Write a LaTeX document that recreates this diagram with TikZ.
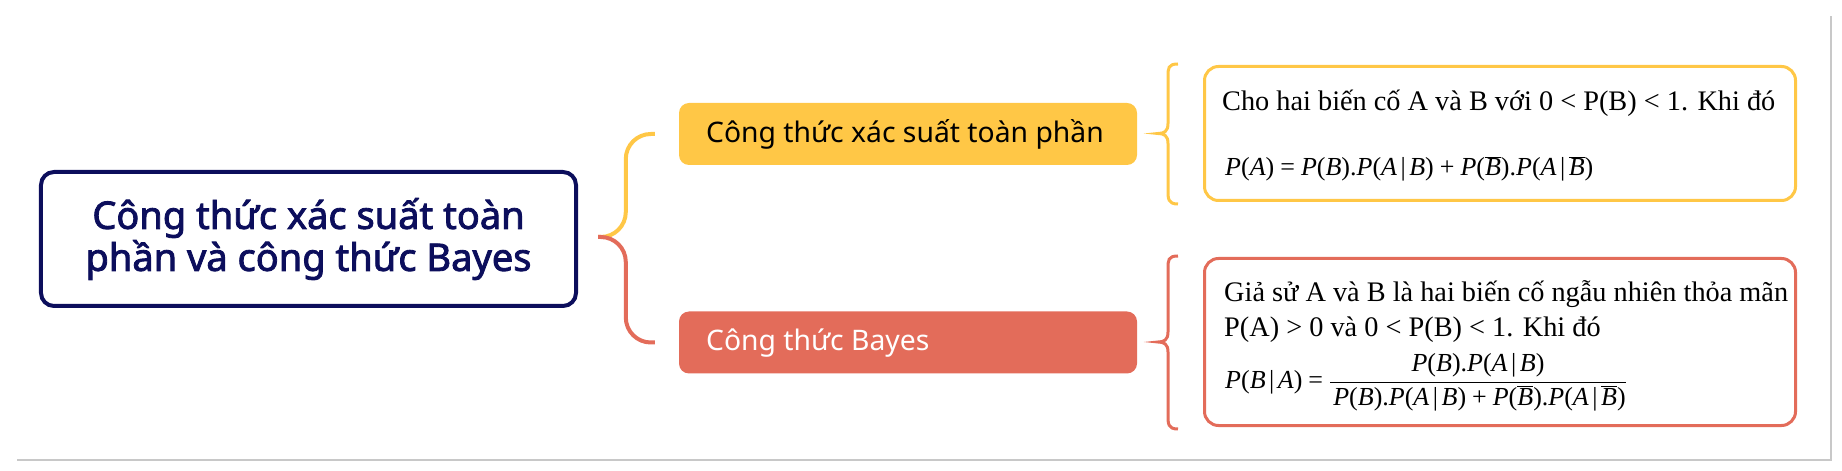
\documentclass[tikz,border=0pt]{standalone}
\usepackage{fontspec}
\setmainfont{Liberation Serif}
\newfontfamily\headfont{Noto Sans}
\newfontfamily\titlefont{Noto Sans}[FakeBold=2.2]
\usetikzlibrary{calc}
\definecolor{navy}{RGB}{12,14,92}
\definecolor{ylw}{RGB}{255,199,70}
\definecolor{rdc}{RGB}{227,108,90}
\definecolor{cardgray}{RGB}{200,200,200}
\newcommand\I[1]{\textit{#1}}
\newcommand\Bb{$\overline{\hbox{\itshape B}}$}
\newcommand\vbr{\kern3.5bp|\kern3.5bp}
\newcommand\eqs{\kern6bp=\kern6bp}
\newcommand\pls{\kern6bp+\kern6bp}
\newcommand\fs[2]{\fontsize{#1bp}{#2bp}\selectfont}
\begin{document}
\begin{tikzpicture}[x=1bp,y=-1bp,
  mainbox/.style={draw=navy,line width=4bp,rounded corners=13bp,fill=white,
    minimum width=535bp,minimum height=134bp,inner sep=0pt},
  headbox/.style={rounded corners=10bp,minimum width=458bp,minimum height=62bp,inner sep=0pt},
  detbox/.style={line width=3bp,rounded corners=14bp,fill=white,minimum width=591bp,inner sep=0pt},
  brc/.style={line width=4bp,rounded corners=25bp},
  rbrc/.style={line width=3bp},
  headtxt/.style={anchor=west,inner sep=0pt,font=\headfont\fs{28.3}{32}},
  bodytxt/.style={anchor=west,inner sep=0pt,font=\fs{28.3}{36}},
  formtxt/.style={anchor=west,inner sep=0pt,font=\fs{26}{30}}]
\useasboundingbox (0,0) rectangle (1842,471);
% card edge
\draw[cardgray,line width=2bp] (17,460) -- (1831,460) -- (1831,16);
% main node
\node[mainbox,text=navy,align=center,font=\titlefont\fs{38}{42}] (main) at (308.5,239)
  {Công thức xác suất toàn\\phần và công thức Bayes};
% heading boxes
\node[headbox,fill=ylw] (yb) at (908,134) {};
\node[headbox,fill=rdc] (rb) at (908,342.5) {};
\node[headtxt,text=black] (yt) at (706,134) {Công thức xác suất toàn phần};
\node[headtxt,text=white] (rt) at (706,343) {Công thức Bayes};
% detail boxes
\node[detbox,draw=ylw,minimum height=134bp] (yd) at (1500,133.5) {};
\node[detbox,draw=rdc,minimum height=167bp] (rd) at (1500,342) {};
% left braces
\coordinate (j) at ($(main.east)+(20,-2)$);
\draw[brc,ylw] (j) -| ($(yb.west)+(-53,0)$) -- ($(yb.west)+(-24,0)$);
\draw[brc,rdc] (j) -| ($(rb.west)+(-53,0)$) -- ($(rb.west)+(-24,0)$);
% right braces
\draw[rbrc,ylw] ($(yd.north west)+(-25,-1)$) .. controls ($(yd.north west)+(-35,-1)$) and ($(yd.north west)+(-35,3)$) .. ($(yd.north west)+(-35,12)$)
  -- ($(yd.west)+(-35,-10)$) .. controls ($(yd.west)+(-35,-2)$) and ($(yd.west)+(-39,0)$) .. ($(yd.west)+(-45,0)$)
  .. controls ($(yd.west)+(-39,0)$) and ($(yd.west)+(-35,2)$) .. ($(yd.west)+(-35,10)$)
  -- ($(yd.south west)+(-35,-12)$) .. controls ($(yd.south west)+(-35,-3)$) and ($(yd.south west)+(-35,2)$) .. ($(yd.south west)+(-25,2)$);
\draw[rbrc,rdc] ($(rd.north west)+(-25,-1)$) .. controls ($(rd.north west)+(-35,-1)$) and ($(rd.north west)+(-35,3)$) .. ($(rd.north west)+(-35,12)$)
  -- ($(rd.west)+(-35,-10)$) .. controls ($(rd.west)+(-35,-2)$) and ($(rd.west)+(-39,0)$) .. ($(rd.west)+(-45,0)$)
  .. controls ($(rd.west)+(-39,0)$) and ($(rd.west)+(-35,2)$) .. ($(rd.west)+(-35,10)$)
  -- ($(rd.south west)+(-35,-12)$) .. controls ($(rd.south west)+(-35,-3)$) and ($(rd.south west)+(-35,2)$) .. ($(rd.south west)+(-25,2)$);
% detail texts
\node[bodytxt] (y1) at (1222,103) {Cho hai biến cố A và B với 0 < P(B) < 1. Khi đó};
\node[formtxt] (yf) at (1225,169) {\I{P}(\I{A})\eqs\I{P}(\I{B}).\I{P}(\I{A}\vbr\I{B})\pls\I{P}(\Bb).\I{P}(\I{A}\vbr\Bb)};
\node[bodytxt] (r1) at (1224,294) {Giả sử A và B là hai biến cố ngẫu nhiên thỏa mãn};
\node[bodytxt] (r2) at (1224,330) {P(A) > 0 và 0 < P(B) < 1. Khi đó};
\node[formtxt] (rf) at (1225,382) {\I{P}(\I{B}\vbr\I{A})\eqs$\displaystyle\frac{\hbox{\I{P}(\I{B}).\I{P}(\I{A}\vbr\I{B})}}{\hbox{\kern3bp\I{P}(\I{B}).\I{P}(\I{A}\vbr\I{B})\pls\I{P}(\Bb).\I{P}(\I{A}\vbr\Bb)}}$};
\end{tikzpicture}
\end{document}
